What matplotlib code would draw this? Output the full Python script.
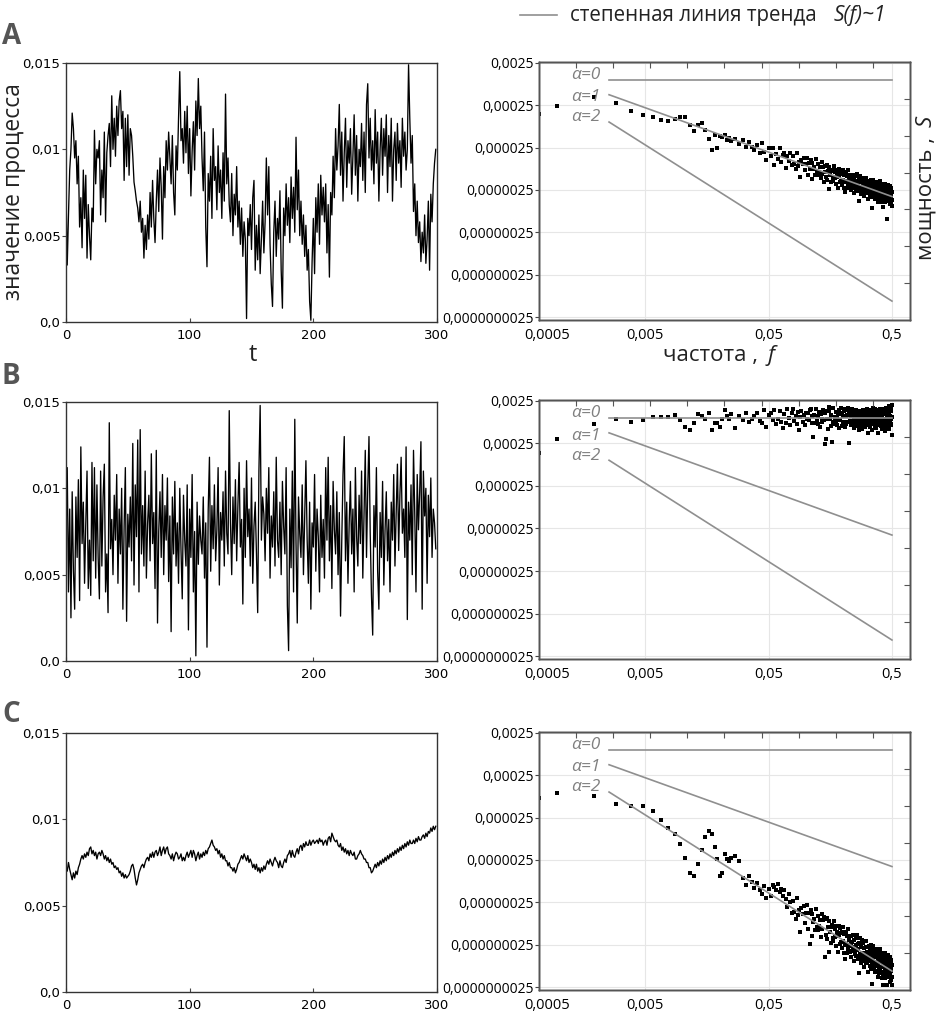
import numpy as np
import matplotlib.pyplot as plt
from matplotlib.lines import Line2D

plt.rcParams['font.family'] = ['Open Sans', 'DejaVu Sans']

# временные ряды, в единицах 1e-4
series_a = [75, 33, 62, 88, 100, 121, 112, 95, 105, 80,
            96, 55, 72, 43, 88, 60, 85, 37, 68, 50,
            36, 66, 58, 111, 80, 100, 95, 105, 62, 88,
            72, 110, 58, 98, 108, 115, 90, 131, 100, 118,
            96, 125, 108, 128, 134, 112, 122, 82, 118, 90,
            120, 85, 112, 108, 96, 81, 76, 70, 66, 58,
            70, 52, 60, 37, 56, 42, 62, 48, 75, 55,
            82, 60, 46, 70, 88, 64, 95, 78, 48, 90,
            72, 105, 88, 110, 95, 80, 108, 75, 62, 102,
            88, 118, 145, 105, 112, 92, 122, 98, 125, 86,
            112, 73, 99, 116, 88, 128, 108, 141, 112, 125,
            95, 76, 110, 55, 32, 86, 70, 96, 60, 112,
            82, 90, 65, 102, 75, 88, 60, 98, 70, 132,
            80, 95, 68, 58, 86, 50, 74, 62, 90, 55,
            70, 45, 66, 38, 58, 48, 2, 60, 50, 68,
            42, 72, 82, 30, 56, 36, 62, 28, 48, 70,
            40, 58, 95, 62, 90, 45, 22, 9, 52, 70,
            38, 60, 48, 76, 30, 8, 66, 50, 80, 56,
            72, 46, 84, 60, 78, 52, 107, 65, 88, 50,
            70, 45, 62, 38, 56, 30, 42, 12, 1, 35,
            60, 28, 72, 52, 80, 45, 85, 62, 78, 58,
            80, 40, 68, 26, 75, 62, 96, 72, 112, 88,
            102, 126, 85, 110, 70, 98, 118, 78, 105, 92,
            112, 74, 96, 120, 85, 108, 70, 100, 90, 115,
            82, 110, 75, 126, 138, 95, 118, 88, 105, 80,
            123, 92, 110, 70, 100, 118, 85, 112, 96, 120,
            75, 108, 90, 118, 70, 100, 110, 82, 115, 92,
            105, 78, 118, 96, 110, 88, 100, 149, 118, 92,
            108, 64, 80, 50, 70, 46, 58, 35, 52, 40,
            62, 34, 48, 70, 30, 74, 58, 80, 92, 100]

series_b = [72, 112, 40, 88, 25, 98, 52, 30, 95, 60,
            105, 35, 124, 68, 92, 45, 80, 110, 42, 70,
            38, 115, 58, 112, 48, 102, 60, 36, 110, 55,
            95, 114, 40, 62, 28, 138, 65, 82, 50, 96,
            70, 108, 45, 88, 62, 100, 30, 78, 112, 23,
            85, 66, 95, 58, 126, 44, 102, 72, 128, 40,
            134, 62, 90, 55, 110, 48, 80, 96, 58, 120,
            68, 86, 42, 122, 22, 75, 98, 60, 108, 50,
            90, 70, 106, 46, 84, 17, 95, 62, 104, 55,
            80, 45, 100, 64, 36, 96, 70, 55, 102, 18,
            88, 60, 108, 40, 75, 3, 92, 56, 84, 70,
            62, 95, 48, 80, 8, 88, 118, 52, 90, 65,
            102, 58, 76, 112, 44, 86, 70, 98, 55, 110,
            74, 62, 145, 80, 50, 95, 68, 105, 58, 90,
            115, 66, 82, 33, 100, 60, 116, 72, 88, 55,
            106, 45, 78, 92, 62, 28, 110, 148, 70, 95,
            85, 58, 100, 74, 112, 48, 84, 66, 98, 55,
            118, 70, 60, 92, 50, 104, 78, 62, 112, 32,
            6, 88, 54, 110, 40, 140, 68, 22, 95, 74,
            60, 102, 50, 84, 116, 70, 45, 92, 30, 80,
            66, 108, 52, 88, 72, 40, 96, 60, 82, 48,
            112, 70, 118, 58, 90, 42, 104, 76, 62, 98,
            50, 86, 26, 70, 108, 130, 58, 92, 45, 80,
            104, 62, 88, 40, 112, 72, 55, 96, 68, 110,
            48, 84, 122, 60, 100, 130, 74, 38, 15, 90,
            66, 112, 52, 30, 86, 60, 104, 44, 76, 98,
            58, 82, 40, 92, 70, 108, 55, 86, 114, 64,
            96, 118, 74, 88, 60, 124, 24, 92, 70, 102,
            50, 122, 86, 40, 108, 76, 98, 127, 30, 110,
            84, 100, 45, 96, 72, 106, 60, 88, 80, 65]

series_c = [73, 70, 75, 71, 68, 65, 69, 66, 70, 68,
            72, 74, 77, 79, 77, 80, 78, 81, 79, 83,
            84, 80, 82, 79, 81, 77, 80, 81, 79, 82,
            80, 77, 79, 76, 78, 75, 77, 74, 75, 72,
            73, 71, 72, 69, 70, 67, 69, 66, 68, 66,
            67, 68, 70, 73, 74, 71, 66, 62, 65, 69,
            71, 73, 74, 72, 75, 77, 78, 76, 80, 78,
            81, 78, 81, 82, 79, 81, 84, 79, 82, 84,
            80, 83, 84, 80, 79, 77, 80, 76, 79, 81,
            80, 77, 78, 80, 76, 78, 76, 79, 81, 78,
            80, 82, 78, 82, 80, 76, 79, 81, 77, 80,
            78, 81, 79, 82, 80, 83, 84, 86, 88, 85,
            84, 82, 83, 80, 82, 78, 80, 77, 79, 76,
            76, 73, 75, 72, 72, 70, 72, 69, 71, 74,
            75, 77, 79, 77, 80, 78, 76, 79, 75, 77,
            75, 72, 74, 71, 74, 70, 72, 69, 72, 70,
            73, 71, 74, 76, 74, 77, 75, 73, 76, 78,
            76, 75, 72, 76, 73, 72, 75, 77, 75, 79,
            80, 82, 78, 82, 79, 78, 81, 83, 80, 84,
            85, 82, 86, 84, 87, 85, 85, 88, 85, 87,
            88, 86, 87, 88, 86, 89, 87, 88, 85, 87,
            88, 85, 89, 90, 87, 92, 90, 88, 87, 88,
            85, 84, 86, 82, 84, 81, 83, 80, 82, 79,
            82, 80, 79, 81, 77, 77, 79, 80, 82, 80,
            79, 77, 77, 75, 75, 72, 72, 69, 70, 72,
            74, 72, 75, 73, 76, 74, 77, 75, 78, 76,
            79, 77, 80, 78, 81, 79, 82, 80, 83, 81,
            84, 82, 85, 83, 86, 84, 87, 85, 88, 86,
            86, 88, 86, 89, 87, 90, 88, 88, 90, 91,
            89, 92, 90, 93, 92, 95, 93, 96, 94, 96]

# частоты спектра: крайняя точка, шаг 1/1040 (k=1..26), шаг 1/520 (k=14..260)
freq_edge = [0.00069]
freq = np.concatenate([freq_edge, np.arange(1, 27) / 1040, np.arange(14, 261) / 520])

# log10 мощности
logS_a = [-3.81, -3.62, -3.42, -3.54, -3.73, -3.84, -3.89, -3.96, -3.98, -3.94,
          -3.87, -3.87, -4.06, -4.22, -4.08, -4.03, -4.18, -4.41, -4.65, -4.30,
          -4.62, -4.34, -4.36, -4.30, -4.42, -4.38, -4.45,
          -4.40, -4.52, -4.42, -4.60, -4.47, -4.58, -4.66,
          -4.55, -4.73, -4.50, -4.71, -4.89, -4.62, -4.79, -4.61, -5.01, -4.76,
          -4.87, -4.62, -4.95, -4.78, -4.73, -5.08, -4.80, -4.91, -4.72, -5.01,
          -4.79, -4.98, -5.10, -4.73, -5.03, -4.94, -5.30, -4.90, -5.00, -4.86,
          -5.14, -4.98, -4.84, -5.24, -4.97, -5.10, -4.90, -5.35, -4.97, -5.10,
          -5.06, -5.25, -4.88, -5.18, -5.24, -4.99, -5.17, -5.06, -5.33, -4.95,
          -5.22, -5.05, -5.41, -5.03, -5.17, -5.29, -5.01, -5.36, -5.15, -5.58,
          -5.05, -5.24, -5.16, -5.41, -5.12, -5.33, -5.39, -5.04, -5.31, -5.17,
          -5.47, -5.13, -5.29, -5.22, -5.56, -5.11, -5.27, -5.42, -5.16, -5.38,
          -5.23, -5.48, -5.20, -5.36, -5.13, -5.56, -5.24, -5.42, -5.66, -5.19,
          -5.40, -5.27, -5.55, -5.14, -5.48, -5.34, -5.44, -5.25, -5.54, -5.37,
          -5.26, -5.61, -5.35, -5.50, -5.24, -5.43, -5.68, -5.31, -5.49, -5.24,
          -5.55, -5.40, -5.28, -5.58, -5.48, -5.23, -5.63, -5.38, -5.45, -5.86,
          -5.36, -5.54, -5.60, -5.28, -5.69, -5.42, -5.36, -5.53, -5.31, -5.65,
          -5.51, -5.34, -5.59, -5.74, -5.42, -5.63, -5.31, -5.52, -5.68, -5.41,
          -5.31, -5.59, -5.48, -5.68, -5.40, -5.82, -5.51, -5.38, -5.64, -5.48,
          -5.72, -5.45, -5.58, -5.43, -5.61, -5.37, -5.77, -5.51, -5.68, -6.02,
          -5.50, -5.69, -5.37, -5.65, -5.74, -5.55, -5.44, -5.81, -5.50, -5.63,
          -5.69, -5.42, -5.64, -5.49, -5.79, -5.52, -5.62, -5.45, -5.88, -5.57,
          -5.45, -5.65, -5.81, -5.56, -5.50, -5.73, -5.40, -5.76, -5.62, -5.71,
          -5.70, -5.50, -5.61, -5.81, -5.55, -5.89, -5.46, -5.70, -5.54, -6.00,
          -5.54, -5.84, -5.57, -5.63, -5.79, -5.50, -5.75, -5.46, -5.88, -5.62,
          -5.82, -5.61, -5.78, -5.49, -5.69, -6.28, -5.56, -5.75, -5.54, -5.86,
          -5.64, -5.78, -5.48, -5.81, -5.62, -5.85, -5.59, -5.73, -5.94, -5.57,
          -5.81, -5.51, -5.76, -5.62, -5.91, -5.69, -5.56, -5.84, -5.64, -5.99]

logS_b = [-3.84, -3.51, -3.16, -3.04, -3.09, -3.06, -2.99, -2.99, -2.99, -2.94,
          -3.06, -3.23, -3.30, -3.13, -2.92, -2.97, -3.04, -2.90, -3.28, -3.13,
          -3.13, -3.23, -3.04, -2.83, -2.95, -3.02, -2.92,
          -3.25, -2.95, -3.05, -2.88, -3.10, -3.02, -2.97,
          -2.90, -3.08, -3.13, -2.81, -3.22, -2.94, -2.88, -3.05, -2.82, -3.16,
          -3.02, -2.85, -3.09, -3.24, -2.92, -3.13, -2.80, -3.01, -3.17, -2.89,
          -2.79, -3.07, -2.96, -3.15, -2.87, -3.29, -2.98, -2.84, -3.10, -2.94,
          -3.18, -2.90, -3.03, -2.88, -3.06, -2.81, -2.80, -2.95, -3.12, -3.45,
          -2.93, -3.12, -2.80, -3.08, -3.16, -2.97, -2.86, -3.23, -2.91, -3.04,
          -3.10, -2.83, -3.05, -2.89, -3.62, -3.50, -3.02, -2.85, -3.27, -2.76,
          -2.84, -3.04, -3.20, -2.94, -3.58, -3.11, -2.78, -3.14, -2.99, -3.08,
          -3.07, -2.87, -2.98, -3.17, -2.91, -3.25, -2.82, -3.06, -2.89, -2.78,
          -2.89, -3.19, -2.92, -2.97, -3.13, -2.84, -3.09, -2.80, -3.22, -2.95,
          -3.15, -2.94, -3.11, -2.82, -2.78, -3.60, -2.88, -3.07, -2.86, -3.18,
          -2.96, -3.09, -2.79, -3.12, -2.93, -3.16, -2.90, -3.03, -3.24, -2.87,
          -3.11, -2.81, -3.06, -2.91, -3.20, -2.98, -2.85, -3.13, -2.93, -3.28,
          -2.94, -3.10, -2.85, -3.04, -3.20, -2.91, -3.07, -2.87, -3.26, -2.99,
          -3.09, -2.82, -3.14, -2.95, -2.89, -3.23, -2.94, -3.03, -2.83, -3.11,
          -2.88, -3.06, -3.17, -2.79, -3.09, -2.98, -3.35, -2.92, -3.01, -2.86,
          -3.13, -2.96, -2.81, -3.21, -2.93, -3.05, -2.84, -3.28, -2.90, -3.02,
          -2.97, -3.15, -2.78, -3.07, -3.12, -2.87, -3.04, -2.92, -3.19, -2.80,
          -3.06, -2.89, -3.24, -2.85, -2.99, -3.10, -2.82, -3.16, -2.95, -3.37,
          -2.83, -3.02, -2.93, -3.18, -2.88, -3.09, -3.14, -2.79, -3.05, -2.91,
          -3.20, -2.86, -3.01, -2.94, -3.27, -2.82, -2.97, -3.12, -2.85, -3.07,
          -2.92, -3.16, -2.88, -3.03, -2.80, -3.22, -2.90, -3.08, -3.31, -2.84,
          -3.04, -2.91, -3.19, -2.77, -3.11, -2.96, -3.06, -2.87, -3.15, -2.98,
          -2.86, -3.21, -2.95, -3.09, -2.72, -3.02, -3.26, -2.89, -3.07, -2.81,
          -3.12, -2.97, -2.84, -3.14, -3.04, -2.78, -3.18, -2.70, -2.99, -3.40]

logS_c = [-4.13, -4.03, -4.10, -4.29, -4.34, -4.32, -4.44, -4.65, -4.84, -5.00,
          -5.22, -5.55, -5.90, -5.97, -5.69, -5.36, -5.07, -4.91, -5.00, -5.29,
          -5.59, -5.97, -5.90, -5.45, -5.57, -5.62, -5.55,
          -5.50, -5.62, -6.02, -6.20, -5.98, -6.12, -6.27,
          -6.15, -6.30, -6.40, -6.22, -6.50, -6.28, -6.45, -6.20, -6.25, -6.30,
          -6.18, -6.35, -6.28, -6.45, -6.30, -6.52, -6.72, -6.40, -6.60, -6.85,
          -6.56, -6.83, -7.00, -6.49, -6.91, -6.79, -7.30, -6.74, -6.88, -6.68,
          -7.08, -6.86, -6.66, -7.24, -6.86, -7.58, -6.77, -7.39, -6.88, -7.06,
          -7.00, -7.26, -6.76, -7.18, -7.26, -6.93, -7.17, -7.02, -7.41, -6.87,
          -7.24, -7.02, -6.95, -6.99, -7.90, -7.36, -6.98, -7.46, -7.18, -7.78,
          -7.03, -7.31, -7.19, -7.55, -7.14, -7.44, -7.52, -7.04, -7.41, -7.22,
          -7.64, -7.17, -7.39, -7.30, -7.77, -7.15, -7.37, -7.59, -7.21, -7.53,
          -7.33, -7.67, -7.29, -7.51, -7.19, -7.79, -7.35, -7.61, -7.93, -7.29,
          -7.58, -7.40, -7.80, -7.22, -7.70, -7.49, -7.64, -7.39, -7.78, -7.55,
          -7.39, -7.88, -7.53, -7.74, -7.37, -7.65, -7.98, -7.48, -7.74, -7.37,
          -7.82, -7.61, -7.44, -7.87, -7.73, -7.37, -7.94, -7.59, -7.69, -8.26,
          -7.57, -7.82, -7.90, -7.45, -8.04, -7.65, -7.57, -7.82, -7.50, -7.98,
          -7.79, -7.56, -7.90, -8.12, -7.67, -7.97, -7.51, -7.81, -8.04, -7.66,
          -7.52, -7.92, -7.76, -8.04, -7.65, -8.25, -7.81, -7.63, -7.99, -7.77,
          -8.11, -7.72, -7.91, -7.70, -7.96, -7.61, -8.18, -7.82, -8.07, -8.53,
          -7.80, -8.08, -7.63, -8.03, -8.14, -7.88, -7.73, -8.25, -7.81, -8.00,
          -8.09, -7.71, -8.02, -7.81, -8.23, -7.86, -8.00, -7.76, -8.36, -7.92,
          -7.76, -8.05, -8.27, -7.91, -7.83, -8.15, -7.70, -8.21, -8.00, -8.13,
          -8.12, -7.84, -8.00, -8.27, -7.91, -8.39, -7.79, -8.13, -7.90, -8.54,
          -7.91, -8.33, -7.95, -8.02, -8.25, -7.85, -8.20, -7.80, -8.39, -8.02,
          -8.30, -8.01, -8.25, -7.85, -8.13, -8.55, -7.94, -8.21, -7.91, -8.37,
          -8.06, -8.25, -7.84, -8.30, -8.03, -8.36, -8.00, -8.18, -8.48, -7.97,
          -8.30, -7.88, -8.23, -8.03, -8.44, -8.13, -7.96, -8.35, -8.07, -8.56]

# степенные линии тренда
trend_f = [0.00255, 0.5]
trend_a0 = [1.0e-3, 1.0e-3]
trend_a1 = [4.4e-4, 1.75e-6]
trend_a2 = [1.0e-4, 6.0e-9]
alpha_labels = ['α=0', 'α=1', 'α=2']
alpha_label_y = [1.27e-3, 3.8e-4, 1.29e-4]

left_yticks = [0, 0.005, 0.01, 0.015]
left_ylabels = ['0,0', '0,005', '0,01', '0,015']
left_xticks = [0, 100, 200, 300]
right_yticks = [2.5e-3, 2.5e-4, 2.5e-5, 2.5e-6, 2.5e-7, 2.5e-8, 2.5e-9]
right_ylabels = ['0,0025', '0,00025', '0,000025', '0,0000025',
                 '0,00000025', '0,000000025', '0,0000000025']
right_xticks = [0.0008, 0.005, 0.05, 0.5]
right_xlabels = ['0,0005', '0,005', '0,05', '0,5']
panel_names = ['A', 'B', 'C']

W, H = 941, 1024
fig = plt.figure(figsize=(W / 100, H / 100), dpi=100)


def box(x0, y0, x1, y1):
    return [x0 / W, 1 - y1 / H, (x1 - x0) / W, (y1 - y0) / H]


left_boxes = [box(66, 63, 437, 322), box(66, 402, 437, 661), box(66, 733, 437, 992)]
right_boxes = [box(539, 62, 910, 320), box(539, 400, 910, 659), box(539, 732, 910, 990)]
letter_y = [37, 377, 714]

t = np.arange(300)
grey = '#8f8f8f'

for i, (series, logS) in enumerate(zip([series_a, series_b, series_c],
                                       [logS_a, logS_b, logS_c])):
    # временной ряд
    ax = fig.add_axes(left_boxes[i])
    ax.plot(t, np.array(series) * 1e-4, color='black', lw=0.95)
    ax.set_xlim(0, 300)
    ax.set_ylim(0, 0.015)
    ax.set_xticks(left_xticks)
    ax.set_xticklabels([str(v) for v in left_xticks], family='DejaVu Sans', fontsize=9.5)
    ax.set_yticks(left_yticks)
    ax.set_yticklabels(left_ylabels, family='DejaVu Sans', fontsize=9.5)
    ax.tick_params(axis='x', direction='in', length=3, pad=5, color='#444444')
    ax.tick_params(axis='y', direction='out', length=3, pad=1, color='#444444')
    for s in ax.spines.values():
        s.set_color('#333333')
        s.set_linewidth(1.0)

    # спектр мощности
    axs = fig.add_axes(right_boxes[i])
    axs.set_xscale('log')
    axs.set_yscale('log')
    axs.set_xlim(0.00069, 0.7)
    axs.set_ylim(2.15e-9, 2.6e-3)
    for y in right_yticks:
        axs.axhline(y, color='#e6e6e6', lw=0.8, zorder=0)
    for x in right_xticks[1:]:
        axs.axvline(x, color='#e6e6e6', lw=0.8, zorder=0)
    n = min(len(freq), len(logS))
    axs.scatter(freq[:n], 10 ** np.array(logS[:n]), s=6, marker='s',
                color='black', linewidths=0, zorder=2)
    for tr in [trend_a0, trend_a1, trend_a2]:
        axs.plot(trend_f, tr, color=grey, lw=1.2, zorder=3)
    for lab, ly in zip(alpha_labels, alpha_label_y):
        axs.text(0.00218, ly, lab, ha='right', va='center', fontsize=12.5,
                 style='italic', color='#808080', zorder=4)
    axs.set_yticks(right_yticks)
    axs.set_yticklabels(right_ylabels, fontsize=10)
    axs.set_xticks(right_xticks)
    axs.set_xticklabels(right_xlabels, fontsize=10.5)
    axs.minorticks_off()
    axs.tick_params(axis='y', direction='out', length=3, pad=1, color='#444444')
    axs.tick_params(axis='x', direction='out', length=0, pad=6)

    # мелкие засечки сверху и справа
    axr = axs.twinx()
    axr.set_ylim(0, 7)
    axr.set_yticks(range(1, 7))
    axr.tick_params(axis='y', direction='in', length=4, labelright=False, color='#555555')
    axt = axs.twiny()
    axt.set_xlim(0, 10)
    axt.set_xticks(range(1, 10))
    axt.tick_params(axis='x', direction='in', length=4, labeltop=False, color='#555555')
    for a in [axs, axr, axt]:
        for s in a.spines.values():
            s.set_color('#555555')
            s.set_linewidth(1.0)

    fig.text(2 / W, 1 - letter_y[i] / H, panel_names[i], ha='left', va='center',
             fontsize=20, fontweight='bold', color='#555555')

# подписи осей
fig.text(14 / W, 1 - 192 / H, 'значение процесса', rotation=90, ha='center',
         va='center', fontsize=16.5, color='#222222')
fig.text(253 / W, 1 - 355 / H, 't', ha='center', va='center', fontsize=17, color='#222222')
fig.text(758 / W, 1 - 355 / H, 'частота ,', ha='right', va='center', fontsize=16,
         color='#222222')
fig.text(768 / W, 1 - 355 / H, 'f', ha='left', va='center', fontsize=16,
         style='italic', color='#222222')
fig.text(926 / W, 1 - 137 / H, 'мощность ,', rotation=90, ha='center', va='top',
         fontsize=16, color='#222222')
fig.text(926 / W, 1 - 127 / H, 'S', rotation=90, ha='center', va='bottom',
         fontsize=16, style='italic', color='#222222')

# легенда сверху
fig.add_artist(Line2D([520 / W, 557 / W], [1 - 15 / H, 1 - 15 / H], color=grey, lw=1.2))
fig.text(570 / W, 1 - 15 / H, 'степенная линия тренда', ha='left', va='center',
         fontsize=14.8, color='#222222')
fig.text(834 / W, 1 - 15 / H, 'S(f)~1', ha='left', va='center', fontsize=15,
         style='italic', color='#222222')

fig.savefig('out.png', dpi=100)
